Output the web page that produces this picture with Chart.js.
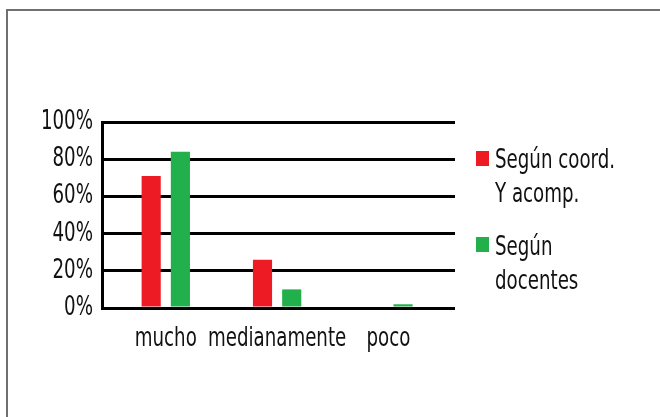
<!DOCTYPE html>
<html>
<head>
<meta charset="utf-8">
<script src="https://cdn.jsdelivr.net/npm/chart.js@4"></script>
<style>
    body { margin: 0; background: #fff; }
    #frame {
        position: absolute; left: 6px; top: 9px; width: 700px; height: 500px;
        border-left: 2px solid #707070; border-top: 2px solid #707070;
    }
    #wrap { position: absolute; left: 0; top: 0; width: 660px; height: 417px; }
    #legend {
        position: absolute; left: 476px; top: 0;
        font-family: "DejaVu Sans Condensed", sans-serif;
        font-size: 27px; line-height: 34px; color: #111;
    }
    .item { position: absolute; left: 0; white-space: nowrap; }
    .box { position: absolute; left: 0; width: 13px; height: 15px; }
    .txt { position: absolute; left: 19px; transform: scaleX(0.75); transform-origin: left top; }
</style>
</head>
<body>
<div id="frame"></div>
<div id="wrap"><canvas id="chart"></canvas></div>
<div id="legend"></div>
<script>
// Categorías y valores (%)
const categorias = ['mucho', 'medianamente', 'poco'];
const coordinadores = [71, 26, 0];
const docentes = [84, 10, 2];
const ticksY = [0, 20, 40, 60, 80, 100];

const series = [
    { nombre: ['Según coord.', 'Y acomp.'], datos: coordinadores, color: '#ED1C24' },
    { nombre: ['Según', 'docentes'], datos: docentes, color: '#21B04B' },
];

const fuente = '"DejaVu Sans Condensed", sans-serif';

// Leyenda en html (texto en dos líneas)
const legend = document.getElementById('legend');
series.forEach((s, i) => {
    const item = document.createElement('div');
    item.className = 'item';
    item.style.top = (142 + i * 87) + 'px';
    const box = document.createElement('div');
    box.className = 'box';
    box.style.top = (i == 0 ? 9 : 8) + 'px';
    box.style.background = s.color;
    const txt = document.createElement('div');
    txt.className = 'txt';
    txt.innerHTML = s.nombre.join('<br>');
    item.appendChild(box);
    item.appendChild(txt);
    legend.appendChild(item);
});

// Estrecha el texto del canvas (la fuente original es condensada)
const condensar = {
    id: 'condensar',
    beforeDraw(chart) {
        const ctx = chart.ctx;
        if (ctx._fillTextOrig) return;
        const orig = ctx.fillText.bind(ctx);
        ctx._fillTextOrig = orig;
        ctx.fillText = function (text, x, y) {
            ctx.save();
            ctx.translate(x, y);
            ctx.scale(0.75, 1);
            orig(text, 0, 0);
            ctx.restore();
        };
    }
};

new Chart(document.getElementById('chart'), {
    type: 'bar',
    data: {
        datasets: series.map(s => ({
            label: s.nombre.join(' '),
            data: s.datos.map((v, i) => ({ x: i, y: v })),
            backgroundColor: s.color,
            categoryPercentage: 0.525,
            barPercentage: 0.655,
        }))
    },
    plugins: [condensar],
    options: {
        responsive: true,
        maintainAspectRatio: false,
        animation: false,
        layout: { padding: { left: 0, top: 122, right: 205, bottom: 0 } },
        plugins: {
            legend: { display: false },
            tooltip: { enabled: false },
        },
        scales: {
            x: {
                type: 'linear',
                offset: false,
                min: -0.573,
                max: 2.598,
                afterBuildTicks: scale => { scale.ticks = categorias.map((c, i) => ({ value: i })); },
                grid: { display: false, drawTicks: false },
                border: { display: false },
                ticks: {
                    color: '#111', padding: 15, autoSkip: false, maxRotation: 0, minRotation: 0,
                    font: { family: fuente, size: 27 },
                    callback: v => categorias[v],
                },
                afterFit: scale => { scale.height = 109; },
            },
            y: {
                min: 0,
                max: 100,
                afterBuildTicks: scale => { scale.ticks = ticksY.map(v => ({ value: v })); },
                grid: { color: '#000', lineWidth: 3, drawTicks: false },
                border: { display: true, color: '#000', width: 3 },
                ticks: {
                    color: '#111', padding: 9,
                    font: { family: fuente, size: 27 },
                    callback: v => v + '%',
                },
                afterFit: scale => { scale.width = 102; },
            }
        }
    }
});
</script>
</body>
</html>
